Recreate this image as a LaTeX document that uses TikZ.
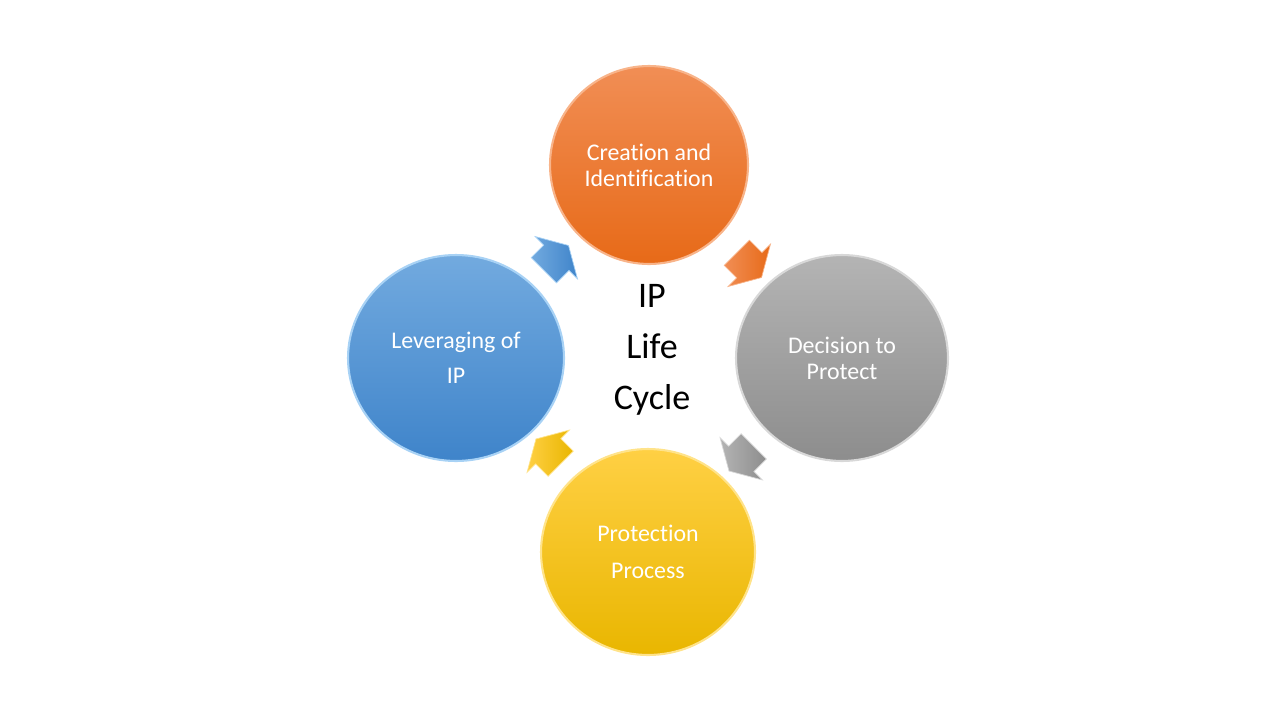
\documentclass[tikz,border=0pt]{standalone}
\usepackage{fontspec}
\setmainfont[Ligatures=NoCommon]{Carlito}
\usetikzlibrary{calc,shapes.geometric,shapes.arrows}
\definecolor{createtop}{HTML}{F18E55}
\definecolor{createbot}{HTML}{E76A18}
\definecolor{createrim}{HTML}{F8B48A}
\definecolor{decidetop}{HTML}{B4B4B4}
\definecolor{decidebot}{HTML}{8D8D8D}
\definecolor{deciderim}{HTML}{D8D8D8}
\definecolor{protecttop}{HTML}{FFD044}
\definecolor{protectbot}{HTML}{E9B600}
\definecolor{protectrim}{HTML}{FFE38A}
\definecolor{leveragetop}{HTML}{72AADF}
\definecolor{leveragebot}{HTML}{3F84CA}
\definecolor{leveragerim}{HTML}{A8D2F5}

\begin{document}
\begin{tikzpicture}[
  x=0.02cm,y=-0.02cm,
  phase/.style={ellipse,top color=#1top,bottom color=#1bot,draw=#1rim,line width=1.2pt,
    text=white,align=center,inner sep=0pt},
  turn/.style={single arrow,single arrow head extend=0.24cm,single arrow tip angle=120,
    minimum height=0.7cm,inner xsep=0pt,inner ysep=0.35cm,
    left color=#1top,right color=#1bot,draw=#1rim,line width=0.4pt},
]
  \useasboundingbox (0,0) rectangle (1280,720);

  \node[phase=create,minimum width=3.96cm,minimum height=3.96cm,
    font=\fontsize{13.6}{14.7}\selectfont] (create) at (649,165) {Creation and\\Identification};
  \node[phase=decide,minimum width=4.24cm,minimum height=4.12cm,
    font=\fontsize{13.6}{14.7}\selectfont] (decide) at (842,358) {Decision to\\Protect};
  \node[phase=protect,minimum width=4.28cm,minimum height=4.12cm,
    font=\fontsize{13.6}{21}\selectfont] (protect) at (648,552) {Protection\\Process};
  \node[phase=leverage,minimum width=4.32cm,minimum height=4.12cm,
    font=\fontsize{13.6}{20}\selectfont] (leverage) at (456,358) {Leveraging of\\IP};

  % block arrows between the phases
  \node[turn=create,rotate=-45] (ar1) at ($(create)!0.5!(decide)$) {};
  \node[turn=decide,rotate=-135] (ar2) at ($(decide)!0.5!(protect)$) {};
  \node[turn=protect,rotate=135] (ar3) at ($(protect)!0.5!(leverage)$) {};
  \node[turn=leverage,rotate=45] (ar4) at ($(leverage)!0.5!(create)$) {};

  \node[font=\fontsize{20.5}{29}\selectfont,align=center] (title) at (652,350) {IP\\Life\\Cycle};
\end{tikzpicture}
\end{document}
